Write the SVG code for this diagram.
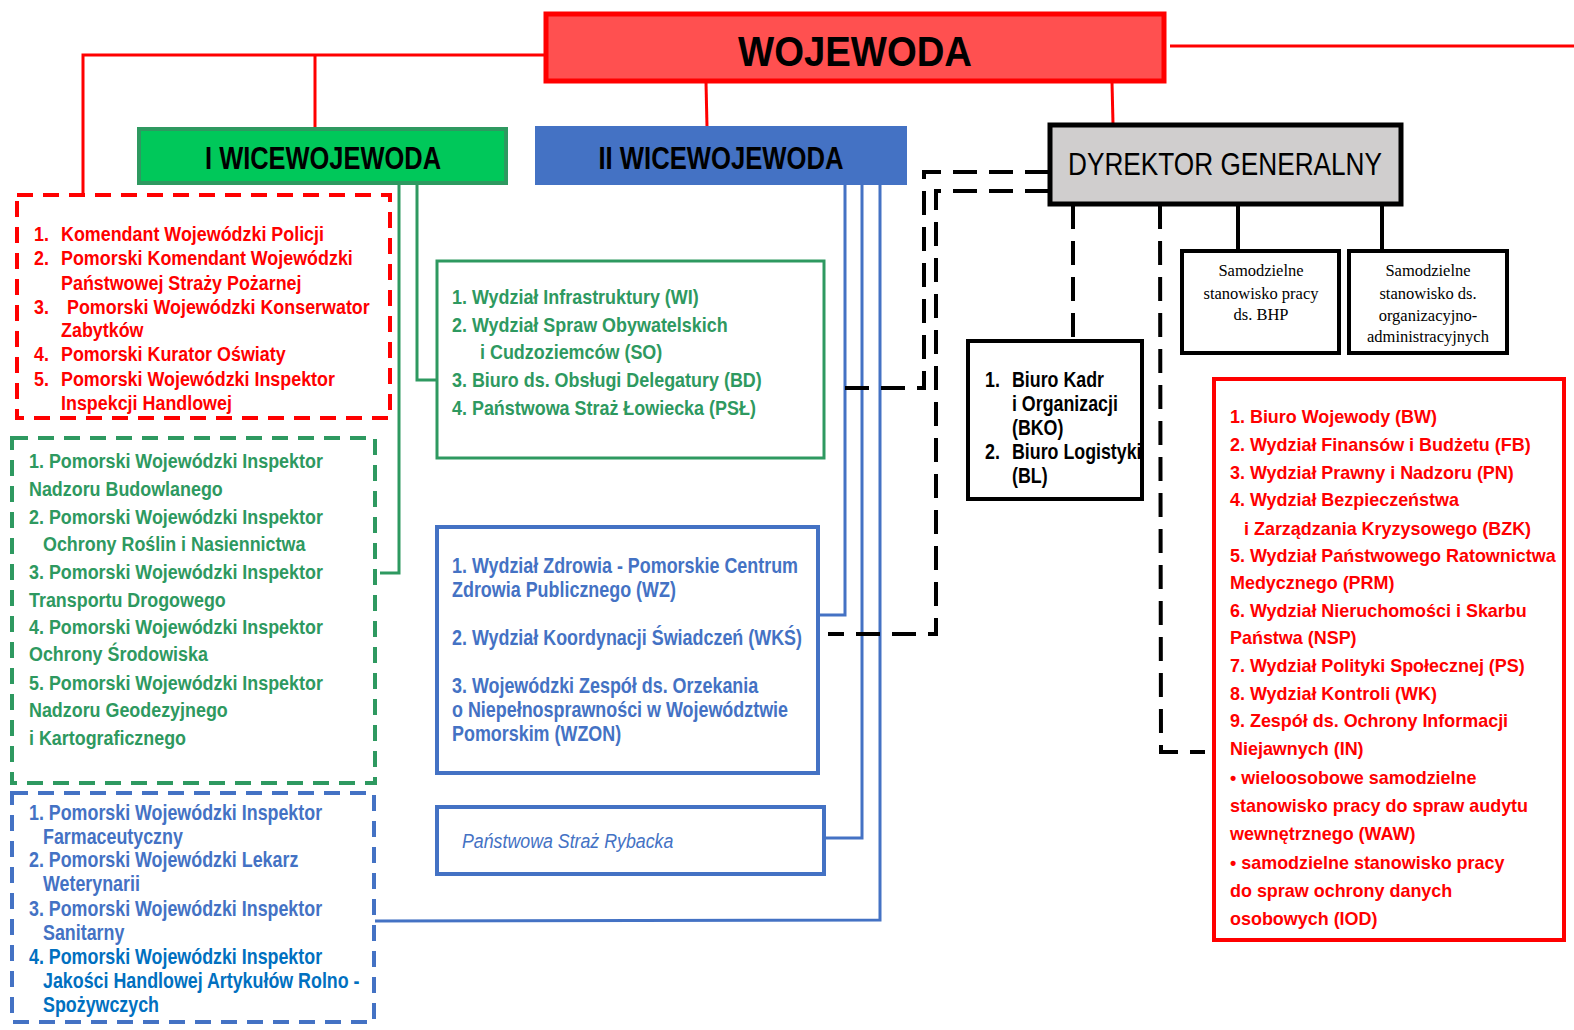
<svg xmlns="http://www.w3.org/2000/svg" width="1574" height="1030" viewBox="0 0 1574 1030">
<style>
.n{font-family:"Liberation Sans",Arial,sans-serif;font-weight:bold}
.r{fill:#FF0000}.g{fill:#2E9960}.b{fill:#4472C4}.b2{fill:#0070C0}.k{fill:#000}
.t{font-family:"Liberation Serif","Times New Roman",serif;font-size:16.5px;fill:#000;text-anchor:middle}
.h{font-family:"Liberation Sans",Arial,sans-serif;font-weight:bold;text-anchor:middle;fill:#000}
</style>
<rect width="1574" height="1030" fill="#fff"/>
<g id="connectors" fill="none">
  <g stroke="#FF0000" stroke-width="3">
    <polyline points="545,55 83,55 83,195"/>
    <line x1="315" y1="55" x2="315" y2="128"/>
    <line x1="706" y1="82" x2="707" y2="127"/>
    <line x1="1112" y1="82" x2="1113" y2="124"/>
    <line x1="1170" y1="46" x2="1574" y2="46"/>
  </g>
  <g stroke="#2E9960" stroke-width="3">
    <polyline points="399,184 399,573 380,573"/>
    <polyline points="417,184 417,380 436,380"/>
  </g>
  <g stroke="#4472C4" stroke-width="3">
    <polyline points="845,185 845,615 819,615"/>
    <polyline points="862,185 862,838 825,838"/>
    <polyline points="880,185 880,920 375,921"/>
  </g>
  <g stroke="#000" stroke-width="4" stroke-dasharray="24,12">
    <polyline points="1049,172 924,172 924,388 833,388"/>
    <polyline points="1049,191 936,191 936,634 828,634"/>
    <line x1="1073" y1="205" x2="1073" y2="340"/>
    <polyline points="1160,205 1161,752 1205,752"/>
  </g>
  <g stroke="#000" stroke-width="4">
    <line x1="1238" y1="205" x2="1238" y2="250"/>
    <line x1="1382" y1="205" x2="1382" y2="250"/>
  </g>
</g>
<g id="wojewoda">
  <rect x="546" y="14" width="618" height="67" fill="#FF5050" stroke="#FF0000" stroke-width="5"/>
  <text class="h" x="855" y="66" font-size="43" textLength="234" lengthAdjust="spacingAndGlyphs">WOJEWODA</text>
</g>
<g id="wicewojewoda1">
  <rect x="139" y="129" width="367" height="54" fill="#00C85A" stroke="#2E9960" stroke-width="4"/>
  <text class="h" x="323" y="169" font-size="32" textLength="236" lengthAdjust="spacingAndGlyphs">I WICEWOJEWODA</text>
</g>
<g id="wicewojewoda2">
  <rect x="535" y="126" width="372" height="59" fill="#4472C4"/>
  <text class="h" x="721" y="169" font-size="32" textLength="245" lengthAdjust="spacingAndGlyphs">II WICEWOJEWODA</text>
</g>
<g id="dyrektor">
  <rect x="1050" y="125" width="351" height="79" fill="#D0CECE" stroke="#000" stroke-width="5"/>
  <text class="h" x="1225" y="175" font-size="32" style="font-weight:normal" textLength="314" lengthAdjust="spacingAndGlyphs">DYREKTOR GENERALNY</text>
</g>
<g id="podlegli-red">
  <rect x="17" y="195" width="373" height="223" fill="none" stroke="#FF0000" stroke-width="4" stroke-dasharray="16,10"/>
  <g class="n r" font-size="21" transform="matrix(0.852 0 0 1 5.03 0)">
    <text x="34" y="241">1.</text><text x="65.7" y="241">Komendant Wojewódzki Policji</text>
    <text x="34" y="265">2.</text><text x="65.7" y="265">Pomorski Komendant Wojewódzki</text>
    <text x="65.7" y="290">Państwowej Straży Pożarnej</text>
    <text x="34" y="314">3.</text><text x="72.7" y="314">Pomorski Wojewódzki Konserwator</text>
    <text x="65.7" y="337">Zabytków</text>
    <text x="34" y="361">4.</text><text x="65.7" y="361">Pomorski Kurator Oświaty</text>
    <text x="34" y="386">5.</text><text x="65.7" y="386">Pomorski Wojewódzki Inspektor</text>
    <text x="65.7" y="410">Inspekcji Handlowej</text>
  </g>
</g>
<g id="inspekcje-green">
  <rect x="12" y="438" width="363" height="345" fill="none" stroke="#2E9960" stroke-width="4" stroke-dasharray="16,10"/>
  <g class="n g" font-size="21" transform="matrix(0.852 0 0 1 4.29 0)">
    <text x="29" y="468">1. Pomorski Wojewódzki Inspektor</text>
    <text x="29" y="496">Nadzoru Budowlanego</text>
    <text x="29" y="524">2. Pomorski Wojewódzki Inspektor</text>
    <text x="45.4" y="551">Ochrony Roślin i Nasiennictwa</text>
    <text x="29" y="579">3. Pomorski Wojewódzki Inspektor</text>
    <text x="29" y="607">Transportu Drogowego</text>
    <text x="29" y="634">4. Pomorski Wojewódzki Inspektor</text>
    <text x="29" y="661">Ochrony Środowiska</text>
    <text x="29" y="690">5. Pomorski Wojewódzki Inspektor</text>
    <text x="29" y="717">Nadzoru Geodezyjnego</text>
    <text x="29" y="745">i Kartograficznego</text>
  </g>
</g>
<g id="inspekcje-blue">
  <rect x="12" y="793" width="362" height="229" fill="none" stroke="#4472C4" stroke-width="4" stroke-dasharray="16,10"/>
  <g class="n" font-size="21.5" transform="matrix(0.83 0 0 1 4.93 0)">
    <g class="b">
      <text x="29" y="820">1. Pomorski Wojewódzki Inspektor</text>
      <text x="45.9" y="844">Farmaceutyczny</text>
      <text x="29" y="867">2. Pomorski Wojewódzki Lekarz</text>
      <text x="45.9" y="891">Weterynarii</text>
      <text x="29" y="916">3. Pomorski Wojewódzki Inspektor</text>
      <text x="45.9" y="940">Sanitarny</text>
    </g>
    <g class="b2">
      <text x="29" y="964">4. Pomorski Wojewódzki Inspektor</text>
      <text x="45.9" y="988">Jakości Handlowej Artykułów Rolno -</text>
      <text x="45.9" y="1012">Spożywczych</text>
    </g>
  </g>
</g>
<g id="wydzialy-green">
  <rect x="437" y="261" width="387" height="197" fill="none" stroke="#2E9960" stroke-width="3"/>
  <g class="n g" font-size="20" transform="matrix(0.897 0 0 1 46.56 0)">
    <text x="452" y="304">1. Wydział Infrastruktury (WI)</text>
    <text x="452" y="332">2. Wydział Spraw Obywatelskich</text>
    <text x="483.2" y="359">i Cudzoziemców (SO)</text>
    <text x="452" y="387">3. Biuro ds. Obsługi Delegatury (BD)</text>
    <text x="452" y="415">4. Państwowa Straż Łowiecka (PSŁ)</text>
  </g>
</g>
<g id="wydzialy-blue">
  <rect x="437" y="527" width="381" height="246" fill="none" stroke="#4472C4" stroke-width="4"/>
  <g class="n b" font-size="22" transform="matrix(0.815 0 0 1 83.62 0)">
    <text x="452" y="573">1. Wydział Zdrowia - Pomorskie Centrum</text>
    <text x="452" y="597">Zdrowia  Publicznego (WZ)</text>
    <text x="452" y="645">2. Wydział Koordynacji Świadczeń (WKŚ)</text>
    <text x="452" y="693">3. Wojewódzki Zespół ds. Orzekania</text>
    <text x="452" y="717">o Niepełnosprawności w Województwie</text>
    <text x="452" y="741">Pomorskim (WZON)</text>
  </g>
</g>
<g id="straz-rybacka">
  <rect x="437" y="807" width="387" height="67" fill="none" stroke="#4472C4" stroke-width="4"/>
  <text x="462" y="848" transform="matrix(0.847 0 0 1 70.69 0)" font-family="Liberation Sans,Arial,sans-serif" font-style="italic" font-size="21" fill="#4472C4">Państwowa Straż Rybacka</text>
</g>
<g id="biura-dg">
  <rect x="968" y="341" width="174" height="158" fill="#fff" stroke="#000" stroke-width="4"/>
  <g class="n k" font-size="22" transform="matrix(0.81 0 0 1 187.15 0)">
    <text x="985" y="387">1.</text><text x="1018.3" y="387">Biuro Kadr</text>
    <text x="1018.3" y="411">i Organizacji</text>
    <text x="1018.3" y="435">(BKO)</text>
    <text x="985" y="459">2.</text><text x="1018.3" y="459">Biuro Logistyki</text>
    <text x="1018.3" y="483">(BL)</text>
  </g>
</g>
<g id="bhp">
  <rect x="1182" y="251" width="157" height="102" fill="#fff" stroke="#000" stroke-width="4"/>
  <text class="t" x="1261" y="276">Samodzielne</text>
  <text class="t" x="1261" y="299">stanowisko pracy</text>
  <text class="t" x="1261" y="320">ds. BHP</text>
</g>
<g id="org-adm">
  <rect x="1349" y="251" width="158" height="102" fill="#fff" stroke="#000" stroke-width="4"/>
  <text class="t" x="1428" y="276">Samodzielne</text>
  <text class="t" x="1428" y="299">stanowisko ds.</text>
  <text class="t" x="1428" y="321">organizacyjno-</text>
  <text class="t" x="1428" y="342">administracyjnych</text>
</g>
<g id="wydzialy-red">
  <rect x="1214" y="379" width="350" height="561" fill="none" stroke="#FF0000" stroke-width="4"/>
  <g class="n r" font-size="19" transform="matrix(0.945 0 0 1 67.65 0)">
    <text x="1230" y="423">1. Biuro Wojewody (BW)</text>
    <text x="1230" y="451">2. Wydział Finansów i Budżetu (FB)</text>
    <text x="1230" y="479">3. Wydział Prawny i Nadzoru (PN)</text>
    <text x="1230" y="506">4. Wydział Bezpieczeństwa</text>
    <text x="1244.8" y="535">i Zarządzania Kryzysowego (BZK)</text>
    <text x="1230" y="562">5. Wydział Państwowego Ratownictwa</text>
    <text x="1230" y="589">Medycznego (PRM)</text>
    <text x="1230" y="617">6. Wydział Nieruchomości i Skarbu</text>
    <text x="1230" y="644">Państwa (NSP)</text>
    <text x="1230" y="672">7. Wydział Polityki Społecznej (PS)</text>
    <text x="1230" y="700">8. Wydział Kontroli (WK)</text>
    <text x="1230" y="727">9. Zespół ds. Ochrony Informacji</text>
    <text x="1230" y="755">Niejawnych (IN)</text>
    <text x="1230" y="784">• wieloosobowe samodzielne</text>
    <text x="1230" y="812">stanowisko pracy do spraw audytu</text>
    <text x="1230" y="840">wewnętrznego (WAW)</text>
    <text x="1230" y="869">• samodzielne stanowisko pracy</text>
    <text x="1230" y="897">do spraw ochrony danych</text>
    <text x="1230" y="925">osobowych (IOD)</text>
  </g>
</g>
</svg>
